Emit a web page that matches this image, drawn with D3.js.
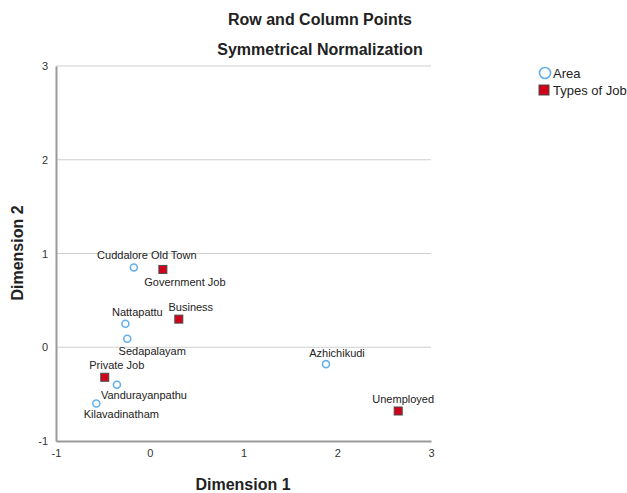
<!DOCTYPE html>
<html><head><meta charset="utf-8">
<script src="https://cdn.jsdelivr.net/npm/d3@7"></script>
<style>body{margin:0;background:#fff;} text{font-family:"Liberation Sans",Arial,sans-serif;}</style>
</head><body><svg id="c" width="627" height="493"></svg>
<script>
const areaNames = ["Cuddalore Old Town","Nattapattu","Sedapalayam","Vandurayanpathu","Kilavadinatham","Azhichikudi"];
const areaDim1 = [-0.17,-0.26,-0.24,-0.35,-0.57,1.88];
const areaDim2 = [0.85,0.25,0.09,-0.40,-0.60,-0.18];
const jobNames = ["Government Job","Business","Private Job","Unemployed"];
const jobDim1 = [0.14,0.31,-0.48,2.65];
const jobDim2 = [0.83,0.30,-0.32,-0.68];
const xTicks = [-1,0,1,2,3];
const yTicks = [-1,0,1,2,3];
// label placement offsets (layout only)
const areaLabelOff = [[13,-12],[12,-12],[25,12],[27,10],[25,11],[11,-11]];
const jobLabelOff = [[22,13],[12,-12],[12,-12],[5,-12]];

const svg = d3.select("#c");
const x = d3.scaleLinear().domain([-1,3]).range([56,431]);
const y = d3.scaleLinear().domain([-1,3]).range([441,66]);

// gridlines
svg.append("g").selectAll("line").data(yTicks.filter(d=>d>-1)).join("line")
  .attr("x1",x(-1)).attr("x2",x(3)).attr("y1",d=>y(d)).attr("y2",d=>y(d))
  .attr("stroke","#cfcfcf").attr("stroke-width",1.2);

// axes
const fmt = d => String(d);
const xAxis = d3.axisBottom(x).tickValues(xTicks).tickSize(0).tickPadding(8).tickFormat(fmt);
const gx = svg.append("g").attr("transform",`translate(0,${y(-1)})`).call(xAxis);
gx.select(".domain").attr("stroke","#9a9a9a").attr("stroke-width",2);
gx.selectAll("text").attr("font-size",11).attr("fill","#333").attr("font-family","Liberation Sans, Arial, sans-serif");
const yAxis = d3.axisLeft(y).tickValues(yTicks).tickSize(0).tickPadding(8).tickFormat(fmt);
const gy = svg.append("g").attr("transform",`translate(${x(-1)},0)`).call(yAxis);
gy.select(".domain").attr("stroke","#9a9a9a").attr("stroke-width",2);
gy.selectAll("text").attr("font-size",11).attr("fill","#333").attr("font-family","Liberation Sans, Arial, sans-serif");

// titles
svg.append("text").attr("x",320).attr("y",25).attr("text-anchor","middle")
  .attr("font-size",16).attr("font-weight","bold").attr("fill","#222").text("Row and Column Points");
svg.append("text").attr("x",320).attr("y",55).attr("text-anchor","middle")
  .attr("font-size",16).attr("font-weight","bold").attr("fill","#222").text("Symmetrical Normalization");
svg.append("text").attr("x",243).attr("y",490).attr("text-anchor","middle")
  .attr("font-size",16).attr("font-weight","bold").attr("fill","#222").text("Dimension 1");
svg.append("text").attr("transform","translate(23,253) rotate(-90)").attr("text-anchor","middle")
  .attr("font-size",16).attr("font-weight","bold").attr("fill","#222").text("Dimension 2");

const areas = areaNames.map((n,i)=>({n,x:areaDim1[i],y:areaDim2[i],o:areaLabelOff[i]}));
const jobs = jobNames.map((n,i)=>({n,x:jobDim1[i],y:jobDim2[i],o:jobLabelOff[i]}));

svg.append("g").selectAll("circle").data(areas).join("circle")
  .attr("cx",d=>x(d.x)).attr("cy",d=>y(d.y)).attr("r",3.5)
  .attr("fill","#fff").attr("stroke","#62b0ee").attr("stroke-width",1.6);
svg.append("g").selectAll("rect").data(jobs).join("rect")
  .attr("x",d=>x(d.x)-4).attr("y",d=>y(d.y)-4).attr("width",8).attr("height",8)
  .attr("fill","#d0021b").attr("stroke","#4a4a4a").attr("stroke-width",1);

svg.append("g").selectAll("text").data(areas.concat(jobs)).join("text")
  .attr("x",d=>x(d.x)+d.o[0]).attr("y",d=>y(d.y)+d.o[1]).attr("dy","0.35em")
  .attr("text-anchor","middle").attr("font-size",11).attr("fill","#222").text(d=>d.n);

// legend
const lg = svg.append("g");
lg.append("circle").attr("cx",545).attr("cy",73).attr("r",5.5).attr("fill","#fff").attr("stroke","#62b0ee").attr("stroke-width",1.6);
lg.append("text").attr("x",553).attr("y",73).attr("dy","0.35em").attr("font-size",13).attr("fill","#222").text("Area");
lg.append("rect").attr("x",539).attr("y",85).attr("width",10).attr("height",10).attr("fill","#d0021b").attr("stroke","#4a4a4a").attr("stroke-width",1);
lg.append("text").attr("x",553).attr("y",90).attr("dy","0.35em").attr("font-size",13).attr("fill","#222").text("Types of Job");
</script></body></html>
